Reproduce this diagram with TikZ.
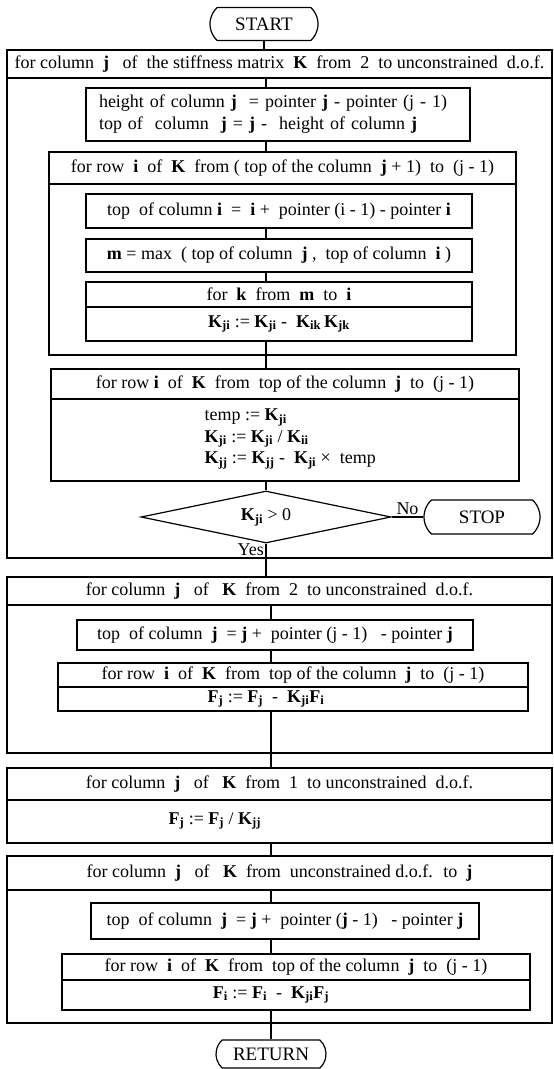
\documentclass[tikz,border=0pt]{standalone}
\usepackage{fontspec}
\setmainfont{Liberation Serif}
\usetikzlibrary{shapes.misc, shapes.geometric}
\newcommand{\Km}[1]{\textbf{K}\textsubscript{\textbf{#1}}}
\newcommand{\Fv}[1]{\textbf{F}\textsubscript{\textbf{#1}}}
\begin{document}
\begin{tikzpicture}[
        x=1pt, y=-1pt, line width=1.2pt,
        font=\fontsize{18}{22}\selectfont,
        box/.style={draw, rectangle, inner sep=0pt, align=center},
        frame/.style={draw, rectangle, inner sep=0pt},
        term/.style={draw, rounded rectangle, rounded rectangle arc length=95, inner sep=0pt, font=\fontsize{19}{22}\selectfont},
        test/.style={draw, diamond, aspect=5, inner sep=0pt}
    ]
        \useasboundingbox (0, 0) rectangle (554, 1069);
        \coordinate (tr) at (266, 0);
        \coordinate (tr2) at (271, 0);

        \node[term, minimum width=108pt, minimum height=33pt] (start) at (264, 24) {START};

        \node[frame, minimum width=545pt, minimum height=508pt] (Aframe) at (279.5, 304) {};
        \node[box, minimum width=545pt, minimum height=28pt] (Ahead) at (279.5, 64) {for column~ \textbf{j}~~ of~ the stiffness matrix~ \textbf{K}~ from~ 2~ to unconstrained~ d.o.f.};
        \node[box, align=left, text width=358pt, minimum width=384pt, minimum height=53pt] (hgt) at (278, 114.5) {height of column \textbf{j}~ = pointer \textbf{j} - pointer (j - 1)\\top of~ column~ \textbf{j}~= \textbf{j} -~ height of column \textbf{j}};

        \node[frame, minimum width=467pt, minimum height=203pt] (Bframe) at (282.5, 253.5) {};
        \node[box, minimum width=467pt, minimum height=32pt] (Bhead) at (282.5, 168) {for row~ \textbf{i}~ of~ \textbf{K}~ from ( top of the column~ \textbf{j} + 1)~ to~ (j - 1)};
        \node[box, minimum width=386pt, minimum height=34pt] (topi) at (279, 211) {top~ of column \textbf{i}~ =~ \textbf{i} +~ pointer (i - 1) - pointer \textbf{i}};
        \node[box, minimum width=386pt, minimum height=33pt] (mmax) at (279, 255.5) {\textbf{m} = max~ ( top of column~ \textbf{j}~, ~top of column~ \textbf{i} )};
        \node[box, minimum width=386pt, minimum height=25pt] (khead) at (279, 294.5) {for~ \textbf{k}~ from~ \textbf{m}~ to~ \textbf{i}};
        \node[box, minimum width=386pt, minimum height=34pt] (kbody) at (279, 324) {\Km{ji} := \Km{ji} -~ \Km{ik}\,\Km{jk}};

        \node[frame, minimum width=468pt, minimum height=112pt] (Cframe) at (285, 425) {};
        \node[box, minimum width=468pt, minimum height=30pt] (Chead) at (285, 384) {for row \textbf{i}~ of~ \textbf{K}~ from~ top of the column~ \textbf{j}~ to~ (j - 1)};
        \node[align=left, inner sep=0pt, anchor=west, font=\fontsize{18}{21.5}\selectfont] (Ctext) at (204, 439) {temp := \Km{ji}\\\Km{ji} := \Km{ji} / \Km{ii}\\\Km{jj} := \Km{jj} -~ \Km{ji} ×~ temp};

        \node[test, minimum width=250pt, minimum height=52pt] (test) at (266, 517) {\Km{ji} > 0};
        \node[term, minimum width=116pt, minimum height=34pt] (stop) at (482, 517) {STOP};

        \node[frame, minimum width=545pt, minimum height=176pt] (Dframe) at (279.5, 665) {};
        \node[box, minimum width=545pt, minimum height=28pt] (Dhead) at (279.5, 591) {for column~ \textbf{j}~~ of~~ \textbf{K}~ from~ 2~ to unconstrained~ d.o.f.};
        \node[box, minimum width=396pt, minimum height=30pt] (Dtop) at (275, 635) {top~ of column~ \textbf{j}~ = \textbf{j} +~ pointer (j - 1)~~ - pointer \textbf{j}};
        \node[box, minimum width=470pt, minimum height=24pt] (Dlhead) at (293, 675) {for row~ \textbf{i}~ of~ \textbf{K}~ from~ top of the column~ \textbf{j}~ to~ (j - 1)};
        \node[box, minimum width=470pt, minimum height=24pt] (Dlbody) at (293, 699) {};
        \node[inner sep=0pt] (Fj) at (266, 699) {\Fv{j} := \Fv{j}~ -~ \Km{ji}\Fv{i}};

        \node[frame, minimum width=545pt, minimum height=75pt] (Eframe) at (279.5, 805.5) {};
        \node[box, minimum width=545pt, minimum height=32pt] (Ehead) at (279.5, 784) {for column~ \textbf{j}~~ of~~ \textbf{K}~ from~ 1~ to unconstrained~ d.o.f.};
        \node[inner sep=0pt, anchor=west] (Etext) at (168, 821) {\Fv{j} := \Fv{j} / \Km{jj}};

        \node[frame, minimum width=545pt, minimum height=167pt] (Fframe) at (279.5, 939.5) {};
        \node[box, minimum width=545pt, minimum height=34pt] (Fhead) at (279.5, 873) {for column~ \textbf{j}~~ of~~ \textbf{K}~ from~ unconstrained d.o.f.~ to~ \textbf{j}};
        \node[box, minimum width=388pt, minimum height=36pt] (Ftop) at (285, 921) {top~ of column~ \textbf{j}~ = \textbf{j} +~ pointer (\textbf{j} - 1)~~ - pointer \textbf{j}};
        \node[box, minimum width=468pt, minimum height=26pt] (Flhead) at (296, 967) {for row~ \textbf{i}~ of~ \textbf{K}~ from~ top of the column~ \textbf{j}~ to~ (j - 1)};
        \node[box, minimum width=468pt, minimum height=30pt] (Flbody) at (296, 995) {};
        \node[inner sep=0pt] (Fi) at (271, 995) {\Fv{i} := \Fv{i}~ -~ \Km{ji}\Fv{j}};

        \node[term, minimum width=110pt, minimum height=28pt] (return) at (271, 1054) {RETURN};

        \draw (start.south) -- (start.south |- Ahead.north);
        \draw (Ahead.south -| tr) -- (hgt.north -| tr);
        \draw (hgt.south -| tr) -- (Bhead.north -| tr);
        \draw (topi.south -| tr) -- (mmax.north -| tr);
        \draw (mmax.south -| tr) -- (khead.north -| tr);
        \draw (kbody.south -| tr) -- (Chead.north -| tr);
        \draw (Cframe.south -| tr) -- (test.north);
        \draw (test.east) -- node[above, inner sep=2pt] (no) {No} (stop.west);
        \draw (test.south) -- node[pos=.43, anchor=south east, inner sep=1.5pt] (yes) {Yes} (test.south |- Dhead.north);

        \draw (Dhead.south -| tr2) -- (Dtop.north -| tr2);
        \draw (Dtop.south -| tr2) -- (Dlhead.north -| tr2);
        \draw (Dlbody.south -| tr2) -- (Ehead.north -| tr2);
        \draw (Eframe.south -| tr2) -- (Fhead.north -| tr2);
        \draw (Fhead.south -| tr2) -- (Ftop.north -| tr2);
        \draw (Ftop.south -| tr2) -- (Flhead.north -| tr2);
        \draw (Flbody.south -| tr2) -- (return.north);
    \end{tikzpicture}
\end{document}
